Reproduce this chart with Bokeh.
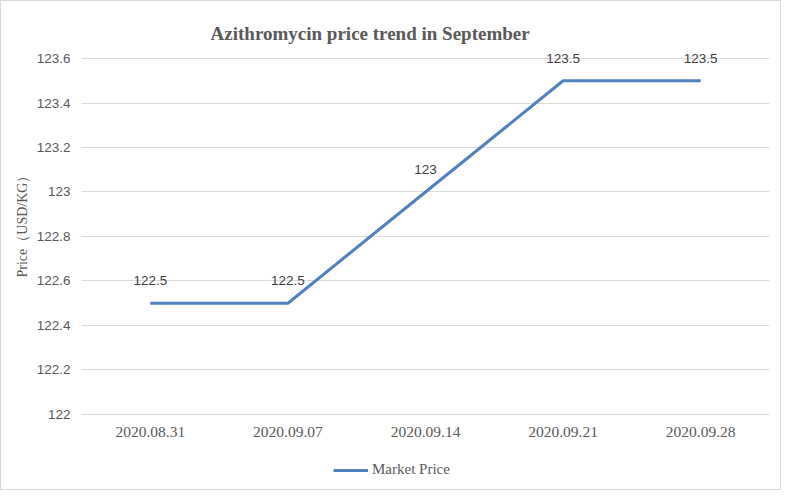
from bokeh.plotting import figure
from bokeh.models import (ColumnDataSource, Range1d, FixedTicker, NumeralTickFormatter,
                          LabelSet, Label, Legend, LegendItem, Title)
from bokeh.core.properties import value
from bokeh.embed import file_html
from bokeh.resources import INLINE

# ---- data ----
dates = ["2020.08.31", "2020.09.07", "2020.09.14", "2020.09.21", "2020.09.28"]
prices = [122.5, 122.5, 123.0, 123.5, 123.5]
price_labels = ["122.5", "122.5", "123", "123.5", "123.5"]
y_ticks = [122.0, 122.2, 122.4, 122.6, 122.8, 123.0, 123.2, 123.4, 123.6]
series_name = "Market Price"
title_text = "Azithromycin price trend in  September"
y_label = "Price（USD/KG）"

LINE = "#4F81BD"
GRID = "#D9D9D9"
TXT = "#595959"

# the frame extends above the top tick (title, labels) and below the
# bottom tick (x labels and legend), so nothing is clipped
Y_MIN, Y_TOP = 121.676, 123.771
AXIS_AT = 122.0
FRAME_H = 466
FRAME_W = 688

src = ColumnDataSource(dict(x=dates, y=prices, lab=price_labels))

p = figure(x_range=dates, y_range=Range1d(Y_MIN, Y_TOP),
           width=779, height=488,
           frame_width=FRAME_W, frame_height=FRAME_H,
           min_border_left=80, min_border_right=11,
           min_border_top=19, min_border_bottom=3,
           output_backend="svg", toolbar_location=None, title=None)
p.styles = {"border": "1px solid #D9D9D9"}
p.outline_line_color = None
p.background_fill_color = "white"
p.border_fill_color = "white"

# grids
p.xgrid.grid_line_color = None
p.ygrid.grid_line_color = GRID
p.ygrid.grid_line_width = 1

# y axis
p.yaxis.ticker = FixedTicker(ticks=y_ticks)
p.yaxis.formatter = NumeralTickFormatter(format="0.[0]")
p.yaxis.axis_line_color = None
p.yaxis.major_tick_line_color = None
p.yaxis.minor_tick_line_color = None
p.yaxis.major_label_text_font = "Liberation Sans"
p.yaxis.major_label_text_font_size = "13.5px"
p.yaxis.major_label_text_color = TXT
p.yaxis.major_label_standoff = 5

# y axis title (vertical, placed on the left)
ytitle = Title(text=y_label, align="left", offset=209, standoff=7,
               text_font="Liberation Serif", text_font_size="14px",
               text_font_style="normal", text_color=TXT)
p.add_layout(ytitle, "left")

# x axis drawn at y = 122 inside the extended frame
p.xaxis.fixed_location = AXIS_AT
p.xaxis.axis_line_color = None
p.xaxis.major_tick_line_color = None
p.xaxis.minor_tick_line_color = None
p.xaxis.major_label_text_font = "Liberation Serif"
p.xaxis.major_label_text_font_size = "15.5px"
p.xaxis.major_label_text_color = TXT
p.xaxis.major_label_standoff = 7

# line
r = p.line(x="x", y="y", source=src, line_width=3, line_color=LINE)

# data labels
labels = LabelSet(x="x", y="y", text="lab", source=src, y_offset=18,
                  text_align="center", text_baseline="alphabetic",
                  text_font=value("Liberation Sans"), text_font_size="13.5px",
                  text_color="#404040")
p.add_layout(labels)

# chart title
title = Label(x=291, y=FRAME_H - 13, x_units="screen", y_units="screen",
              text=title_text, text_align="center", text_baseline="middle",
              text_font="Liberation Serif", text_font_size="19px",
              text_font_style="bold", text_color=TXT)
p.add_layout(title)

# legend
leg = Legend(items=[LegendItem(label=series_name, renderers=[r])],
             location=(252, 8), orientation="horizontal",
             glyph_width=35, glyph_height=14, label_standoff=4,
             padding=0, margin=0, border_line_color=None,
             background_fill_alpha=0,
             label_text_font="Liberation Serif", label_text_font_size="15px",
             label_text_color=TXT)
p.add_layout(leg, "center")

open("out.html", "w").write(file_html(p, INLINE))
